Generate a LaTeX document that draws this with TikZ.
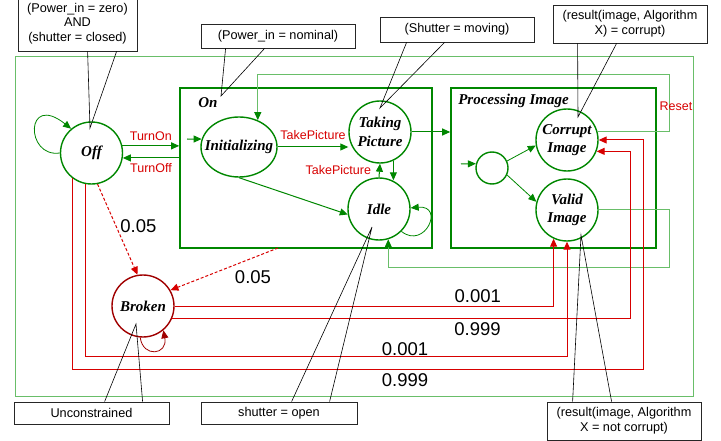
\documentclass[tikz,border=0pt]{standalone}
\usepackage{fontspec}
\setmainfont{Liberation Serif}
\setsansfont{Liberation Sans}
\usetikzlibrary{arrows.meta,shapes.geometric,calc,positioning}
\definecolor{stategreen}{RGB}{0,135,0}
\definecolor{linkgreen}{RGB}{105,190,105}
\definecolor{failred}{RGB}{215,0,0}
\definecolor{brokenred}{RGB}{160,0,0}

\begin{document}
\begin{tikzpicture}[x=1pt,y=-1pt,
  every node/.style={inner sep=0pt},
  state/.style={circle,draw=stategreen,line width=1.4pt,minimum size=62pt,align=center,
    font=\fontsize{15}{18.5}\selectfont\bfseries\itshape},
  broken/.style={state,draw=brokenred},
  box/.style={draw=stategreen,line width=1.6pt},
  title/.style={font=\fontsize{15}{18}\selectfont\bfseries\itshape},
  callout/.style={draw=black!85,line width=0.8pt,align=center,
    font=\sffamily\fontsize{12.7}{14.7}\selectfont},
  pointer/.style={draw=black,line width=0.6pt},
  tip/.style={-{Triangle[length=8pt,width=7pt]}},
  trans/.style={tip,draw=stategreen,line width=1pt},
  link/.style={-{Triangle[length=8pt,width=7pt,color=stategreen]},draw=linkgreen,line width=1pt},
  fail/.style={tip,draw=failred,line width=1pt},
  dashfail/.style={fail,dash pattern=on 3pt off 2pt},
  evlabel/.style={text=failred,font=\sffamily\fontsize{12.5}{14}\selectfont},
  problabel/.style={font=\sffamily\fontsize{18.5}{20}\selectfont}]
\useasboundingbox (0,0) rectangle (721,441);

% system boundary
\draw [linkgreen,line width=1pt] (15,57) rectangle (693,396);

% states
\node [state] (off) at (91.5,153) {Off};
\node [box,minimum width=252pt,minimum height=160pt] (on) at (306,168) {};
\node [box,minimum width=205pt,minimum height=160pt] (proc) at (553.5,168) {};
\node [title] (ontitle) at (208,103) {On};
\node [title] (proctitle) at (513.5,101) {Processing Image};
\node [state,ellipse,minimum width=76pt,minimum height=60pt,inner xsep=-12pt] (init) at (239,147) {Initializing};
\node [state] (take) at (380,132) {Taking\\Picture};
\node [state] (idle) at (379,209) {Idle};
\node [state,minimum size=32pt] (start) at (492,168) {};
\node [state] (corrupt) at (567,140) {Corrupt\\Image};
\node [state] (valid) at (567,210) {Valid\\Image};
\node [broken] (broken) at (143,306) {Broken};

% free ends
\coordinate (initin) at (187,139);
\coordinate (startin) at (461,164);
\coordinate (onout) at (278,248);

% transitions
\draw [trans,line width=0.8pt] (off.180) .. controls (25,158) and (25,92) .. (off.130);
\draw [trans] (off.13) -- (off.13 -| on.west) node [midway,above=5pt,evlabel] {TurnOn};
\draw [trans] (off.-9 -| on.west) -- (off.-9) node [midway,below=5pt,evlabel] {TurnOff};
\draw [trans] (initin) -- (init.168);
\draw [trans] (init.east) -- (take.west |- init.east) node [midway,above=7pt,evlabel] {TakePicture};
\draw [trans] (take.-65) -- (take.-65 |- idle.65);
\draw [trans] (idle.north) -- (take.south) node [midway,left=8pt,evlabel] {TakePicture};
\draw [trans] (init.south) -- (idle.190);
\draw [trans,line width=0.8pt] (idle.-45) .. controls (425,250) and (445,205) .. (idle.2);
\draw [trans] (take.east) -- (take.east -| proc.west);
\draw [trans] (startin) -- (start.165);
\draw [trans,line width=0.8pt] (start.25) -- (corrupt.190);
\draw [trans,line width=0.8pt] (start.-25) -- (valid.165);
\draw [link] (corrupt.15) -| (669,75) -| (init.55);
\draw (676,106) node [evlabel] {Reset};
\draw [link] (valid.east) -| (669,267) -| (idle.-73);

% failures
\draw [dashfail] (off.-79) -- (broken.100) node [pos=0.46,right=4pt,problabel] {0.05};
\draw [dashfail] (onout) -- (broken.30);
\draw (253,277) node [problabel] {0.05};
\draw [fail,brokenred,line width=0.8pt] (broken.-95) .. controls (143,358) and (168,355) .. (broken.-50);
\draw [fail] (broken.east) -| (valid.-115) node [pos=0.4,above=3pt,problabel] {0.001};
\draw [fail] (broken.-23) -| ($(corrupt.-21)+(34,0)$) node [pos=0.333,below=4pt,problabel] {0.999} -- (corrupt.-21);
\draw [fail] (off.-100) |- ($(valid.south)+(0,115)$) -- (valid.south);
\draw (405,349) node [problabel] {0.001};
\draw [fail] (off.-127) |- (643,369) |- (corrupt.east);
\draw (405,380) node [problabel] {0.999};

% conditions
\node [callout,minimum width=119pt,minimum height=55pt] (c1) at (77.5,23.5) {(Power\_in = zero)\\AND\\(shutter = closed)};
\node [callout,minimum width=154pt,minimum height=24pt] (c2) at (278,36) {(Power\_in = nominal)};
\node [callout,minimum width=154pt,minimum height=25pt] (c3) at (457,29.5) {(Shutter = moving)};
\node [callout,minimum width=154pt,minimum height=38pt] (c4) at (630,24) {(result(image, Algorithm\\X) = corrupt)};
\node [callout,minimum width=155pt,minimum height=22pt] (c5) at (91.5,413) {Unconstrained};
\node [callout,minimum width=156pt,minimum height=22pt] (c6) at (279,413) {shutter = open};
\node [callout,minimum width=154pt,minimum height=38pt] (c7) at (624,421) {(result(image, Algorithm\\X = not corrupt)};

\coordinate (offtip) at (90,128);
\coordinate (ontip) at (221,96);
\coordinate (taketip) at (380,108);
\coordinate (corrupttip) at (578,117);
\coordinate (brokentip) at (136,324);
\coordinate (idletip) at (372,227);
\coordinate (validtip) at (581,235);
\draw [pointer] ([xshift=70]c1.south west) -- (offtip) -- ([xshift=99]c1.south west);
\draw [pointer] ([xshift=25]c2.south west) -- (ontip) -- ([xshift=64]c2.south west);
\draw [pointer] ([xshift=27]c3.south west) -- (taketip) -- ([xshift=65]c3.south west);
\draw [pointer] ([xshift=25]c4.south west) -- (corrupttip) -- ([xshift=64]c4.south west);
\draw [pointer] ([xshift=91]c5.north west) -- (brokentip) -- ([xshift=129]c5.north west);
\draw [pointer] ([xshift=91]c6.north west) -- (idletip) -- ([xshift=129]c6.north west);
\draw [pointer] ([xshift=26]c7.north west) -- (validtip) -- ([xshift=65]c7.north west);
\end{tikzpicture}
\end{document}
